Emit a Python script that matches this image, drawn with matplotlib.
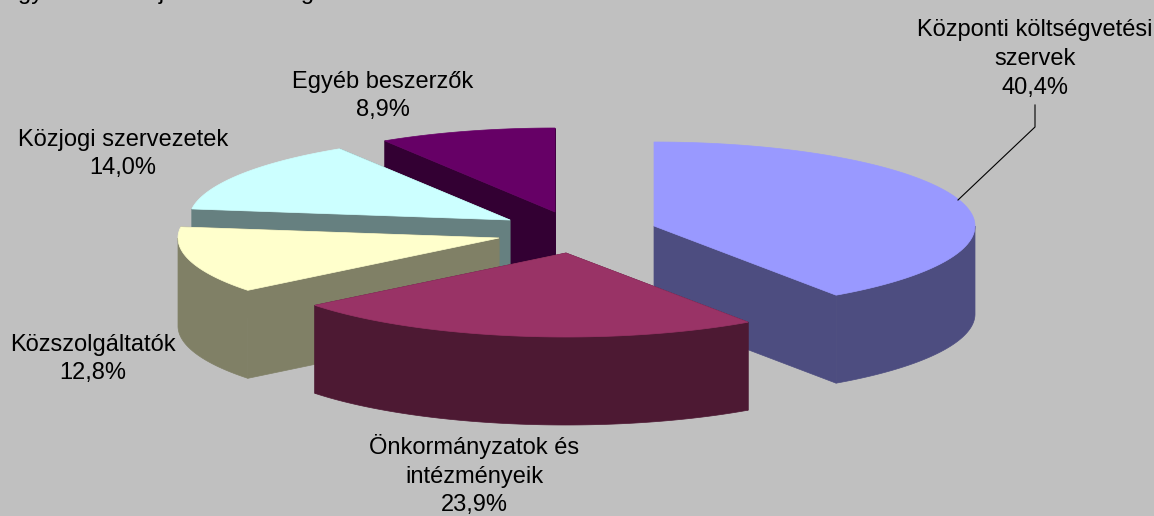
"""Exploded 3D-look pie chart of procurement shares, drawn as flat polygons."""

import numpy as np
import matplotlib
matplotlib.use("Agg")
import matplotlib.pyplot as plt
from matplotlib.patches import Polygon

# data
labels = [
    "Központi költségvetési\nszervek",
    "Önkormányzatok és\nintézményeik",
    "Közszolgáltatók",
    "Közjogi szervezetek",
    "Egyéb beszerzők",
]
shares = [40.4, 23.9, 12.8, 14.0, 8.9]

# slice layout, in pixels
top_colors = ["#9999FF", "#993366", "#FFFFCC", "#CCFFFF", "#660066"]
wall_colors = ["#4D4D80", "#4D1933", "#808066", "#668080", "#330033"]
apex_x = [654, 566, 499, 510, 555]
apex_y = [226, 253, 238, 220, 212]
draw_order = [4, 3, 2, 0, 1]
RX, RY, DEPTH = 321, 84, 88

label_x = [1035, 474, 93, 123, 383]
label_y = [59, 475, 359, 154, 96]

plt.rcParams["font.family"] = ["Liberation Sans", "DejaVu Sans"]

fig = plt.figure(figsize=(11.54, 5.16), dpi=100, facecolor="#C0C0C0")
ax = fig.add_axes([0, 0, 1, 1])
ax.set_xlim(0, 1154)
ax.set_ylim(516, 0)
ax.axis("off")

# angles run clockwise from 12 o'clock
edges = np.concatenate([[0], np.cumsum(shares)]) / sum(shares) * 2 * np.pi


def rim(i, start, stop):
    t = np.linspace(start, stop, 120)
    return apex_x[i] + RX * np.sin(t), apex_y[i] - RY * np.cos(t)


for i in draw_order:
    dark = dict(closed=True, facecolor=wall_colors[i], edgecolor=wall_colors[i],
                linewidth=0.5)
    x, y = rim(i, edges[i], edges[i + 1])
    # outer wall, only the part that faces the viewer
    front_start = max(edges[i], np.pi / 2)
    front_stop = min(edges[i + 1], 3 * np.pi / 2)
    if front_start < front_stop:
        wx, wy = rim(i, front_start, front_stop)
        ax.add_patch(Polygon(np.column_stack([np.r_[wx, wx[::-1]],
                                              np.r_[wy, wy[::-1] + DEPTH]]), **dark))
    # the two cut faces
    for end in (0, -1):
        face_x = [apex_x[i], x[end], x[end], apex_x[i]]
        face_y = [apex_y[i], y[end], y[end] + DEPTH, apex_y[i] + DEPTH]
        ax.add_patch(Polygon(np.column_stack([face_x, face_y]), **dark))
    ax.add_patch(Polygon(np.column_stack([np.r_[apex_x[i], x], np.r_[apex_y[i], y]]),
                         closed=True, facecolor=top_colors[i],
                         edgecolor=top_colors[i], linewidth=0.5))

for i, name in enumerate(labels):
    pct = f"{shares[i]:.1f}%".replace(".", ",")
    ax.text(label_x[i], label_y[i], f"{name}\n{pct}", ha="center", va="center",
            fontsize=17, linespacing=1.41, color="black")

# leader line for the largest slice
ax.plot([958, 1035, 1035], [200, 127, 105], color="black", linewidth=0.8)

# title cut off at the top edge of the picture
ax.text(18, -0.5, "gyarasoknak járadékok megoszlása", ha="left", va="baseline",
        fontsize=17, color="black")

fig.savefig("out.png", dpi=100, facecolor=fig.get_facecolor())
plt.close(fig)
